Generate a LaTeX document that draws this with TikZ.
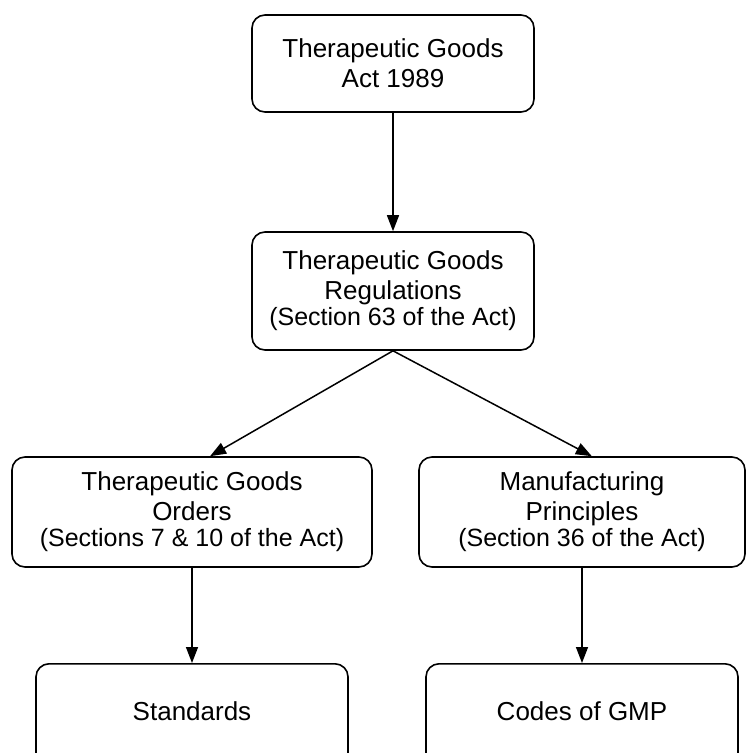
\documentclass[tikz,border=0pt]{standalone}
\usepackage{fontspec}
\setmainfont{Liberation Sans}
\usetikzlibrary{arrows.meta,calc}
\begin{document}
\begin{tikzpicture}[x=1pt,y=-1pt,
  box/.style={draw, line width=1.6pt, rounded corners=13pt, align=center, inner sep=0pt,
              font=\fontsize{26}{30}\selectfont},
  arr/.style={line width=1.5pt, -{Triangle[length=16pt,width=12pt]}}]
\useasboundingbox (0,0) rectangle (747,753);
\clip (0,0) rectangle (747,753);
\node[box, minimum width=282pt, minimum height=97pt] (act) at (393,63.5)
  {Therapeutic Goods\\Act 1989};
\node[box, minimum width=282pt, minimum height=118pt] (reg) at (393,291)
  {Therapeutic Goods\\Regulations\\[-4pt]{\fontsize{25}{26}\selectfont (Section 63 of the Act)}};
\node[box, minimum width=360pt, minimum height=110pt] (ord) at (192,512)
  {Therapeutic Goods\\Orders\\[-4pt]{\fontsize{25}{26}\selectfont (Sections 7 \& 10 of the Act)}};
\node[box, minimum width=326pt, minimum height=110pt] (man) at (582,512)
  {Manufacturing\\Principles\\[-4pt]{\fontsize{25}{26}\selectfont (Section 36 of the Act)}};
\node[box, anchor=north, minimum width=312pt, text height=57pt, text depth=53pt] (std) at (192,663)
  {Standards};
\node[box, anchor=north, minimum width=312pt, text height=57pt, text depth=53pt] (gmp) at (582,663)
  {Codes of GMP};
\coordinate (ordin) at ($(ord.north west)!0.55!(ord.north east)$);
\coordinate (manin) at ($(man.north west)!0.53!(man.north east)$);
\draw[arr] (act.south) -- (reg.north);
\draw[arr] (reg.south) -- (ordin);
\draw[arr] (reg.south) -- (manin);
\draw[arr] (ord.south) -- (std.north);
\draw[arr] (man.south) -- (gmp.north);
\end{tikzpicture}
\end{document}
